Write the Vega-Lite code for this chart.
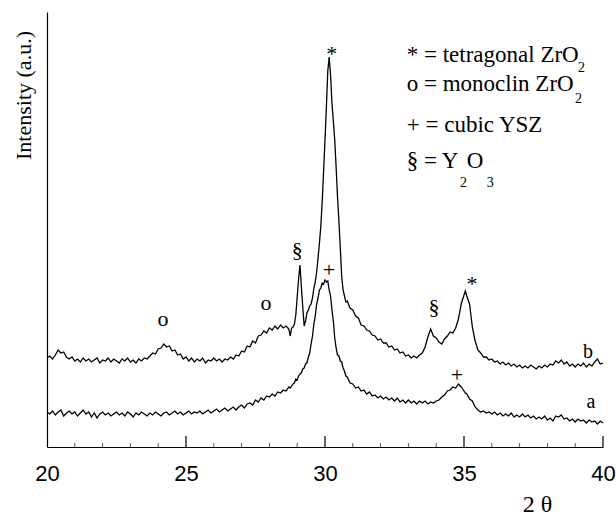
{
 "$schema": "https://vega.github.io/schema/vega-lite/v6.json",
 "width": 556,
 "height": 435,
 "autosize": {"type": "none"},
 "padding": {"left": 47, "top": 12, "right": 13, "bottom": 68},
 "config": {"view": {"stroke": null}},
 "datasets": {
  "xrd": [
   {"t":20.0,"a":35,"b":89},{"t":20.1,"a":33,"b":91},{"t":20.2,"a":36,"b":88},{"t":20.3,"a":32,"b":92},{"t":20.4,"a":35,"b":97},
   {"t":20.5,"a":37,"b":94},{"t":20.6,"a":31,"b":95},{"t":20.7,"a":34,"b":90},{"t":20.8,"a":36,"b":88},{"t":20.9,"a":33,"b":90},
   {"t":21.0,"a":35,"b":86},{"t":21.1,"a":31,"b":88},{"t":21.2,"a":34,"b":85},{"t":21.3,"a":37,"b":89},{"t":21.4,"a":33,"b":86},
   {"t":21.5,"a":35,"b":88},{"t":21.6,"a":30,"b":85},{"t":21.7,"a":34,"b":87},{"t":21.8,"a":29,"b":89},{"t":21.9,"a":33,"b":84},
   {"t":22.0,"a":35,"b":87},{"t":22.1,"a":32,"b":86},{"t":22.2,"a":34,"b":89},{"t":22.3,"a":31,"b":85},{"t":22.4,"a":33,"b":88},
   {"t":22.5,"a":35,"b":86},{"t":22.6,"a":32,"b":84},{"t":22.7,"a":34,"b":88},{"t":22.8,"a":31,"b":86},{"t":22.9,"a":35,"b":89},
   {"t":23.0,"a":33,"b":85},{"t":23.1,"a":30,"b":87},{"t":23.2,"a":34,"b":84},{"t":23.3,"a":32,"b":88},{"t":23.4,"a":35,"b":86},
   {"t":23.5,"a":33,"b":89},{"t":23.6,"a":31,"b":88},{"t":23.7,"a":34,"b":91},{"t":23.8,"a":32,"b":94},{"t":23.9,"a":35,"b":93},
   {"t":24.0,"a":33,"b":98},{"t":24.1,"a":31,"b":99},{"t":24.2,"a":34,"b":103},{"t":24.3,"a":35,"b":100},{"t":24.4,"a":32,"b":101},
   {"t":24.5,"a":34,"b":96},{"t":24.6,"a":36,"b":97},{"t":24.7,"a":33,"b":92},{"t":24.8,"a":35,"b":93},{"t":24.9,"a":32,"b":88},
   {"t":25.0,"a":34,"b":90},{"t":25.1,"a":36,"b":86},{"t":25.2,"a":33,"b":89},{"t":25.3,"a":35,"b":85},{"t":25.4,"a":34,"b":88},
   {"t":25.5,"a":36,"b":86},{"t":25.6,"a":33,"b":89},{"t":25.7,"a":35,"b":84},{"t":25.8,"a":37,"b":87},{"t":25.9,"a":34,"b":86},
   {"t":26.0,"a":36,"b":89},{"t":26.1,"a":38,"b":86},{"t":26.2,"a":35,"b":88},{"t":26.3,"a":37,"b":85},{"t":26.4,"a":39,"b":88},
   {"t":26.5,"a":36,"b":87},{"t":26.6,"a":38,"b":90},{"t":26.7,"a":40,"b":88},{"t":26.8,"a":37,"b":92},{"t":26.9,"a":40,"b":91},
   {"t":27.0,"a":42,"b":96},{"t":27.1,"a":39,"b":95},{"t":27.2,"a":43,"b":101},{"t":27.3,"a":44,"b":100},{"t":27.4,"a":42,"b":106},
   {"t":27.5,"a":47,"b":104},{"t":27.6,"a":45,"b":111},{"t":27.7,"a":49,"b":112},{"t":27.8,"a":47,"b":116},{"t":27.9,"a":51,"b":114},
   {"t":28.0,"a":50,"b":119},{"t":28.1,"a":53,"b":117},{"t":28.2,"a":51,"b":121},{"t":28.3,"a":55,"b":118},{"t":28.4,"a":54,"b":122},
   {"t":28.5,"a":57,"b":119},{"t":28.6,"a":56,"b":121},{"t":28.7,"a":60,"b":118},{"t":28.75,"a":59,"b":111},{"t":28.8,"a":61,"b":119},
   {"t":28.85,"a":63,"b":120},{"t":28.9,"a":64,"b":123},{"t":28.95,"a":68,"b":132},{"t":29.0,"a":67,"b":150},{"t":29.05,"a":71,"b":168},
   {"t":29.1,"a":73,"b":182},{"t":29.15,"a":74,"b":160},{"t":29.2,"a":78,"b":140},{"t":29.25,"a":79,"b":121},{"t":29.3,"a":83,"b":126},
   {"t":29.35,"a":84,"b":134},{"t":29.4,"a":90,"b":137},{"t":29.45,"a":94,"b":141},{"t":29.5,"a":103,"b":143},{"t":29.55,"a":111,"b":149},
   {"t":29.6,"a":123,"b":159},{"t":29.65,"a":131,"b":165},{"t":29.7,"a":143,"b":175},{"t":29.75,"a":149,"b":189},{"t":29.8,"a":157,"b":204},
   {"t":29.85,"a":159,"b":221},{"t":29.9,"a":164,"b":246},{"t":29.95,"a":163,"b":276},{"t":30.0,"a":167,"b":307},{"t":30.05,"a":165,"b":340},
   {"t":30.1,"a":166,"b":376},{"t":30.15,"a":157,"b":390},{"t":30.2,"a":151,"b":372},{"t":30.25,"a":137,"b":344},{"t":30.3,"a":126,"b":326},
   {"t":30.35,"a":109,"b":307},{"t":30.4,"a":99,"b":280},{"t":30.45,"a":92,"b":250},{"t":30.5,"a":91,"b":226},{"t":30.55,"a":86,"b":199},
   {"t":30.6,"a":85,"b":171},{"t":30.65,"a":79,"b":157},{"t":30.7,"a":76,"b":151},{"t":30.75,"a":71,"b":145},{"t":30.8,"a":70,"b":146},
   {"t":30.9,"a":64,"b":139},{"t":31.0,"a":63,"b":137},{"t":31.1,"a":59,"b":131},{"t":31.2,"a":60,"b":129},{"t":31.3,"a":56,"b":122},
   {"t":31.4,"a":57,"b":121},{"t":31.5,"a":53,"b":117},{"t":31.6,"a":55,"b":116},{"t":31.7,"a":51,"b":112},{"t":31.8,"a":52,"b":111},
   {"t":31.9,"a":49,"b":107},{"t":32.0,"a":51,"b":108},{"t":32.1,"a":48,"b":104},{"t":32.2,"a":50,"b":104},{"t":32.3,"a":47,"b":100},
   {"t":32.4,"a":49,"b":101},{"t":32.5,"a":46,"b":97},{"t":32.6,"a":49,"b":98},{"t":32.7,"a":45,"b":94},{"t":32.8,"a":47,"b":95},
   {"t":32.9,"a":44,"b":91},{"t":33.0,"a":47,"b":92},{"t":33.1,"a":44,"b":89},{"t":33.2,"a":46,"b":91},{"t":33.3,"a":43,"b":89},
   {"t":33.4,"a":46,"b":92},{"t":33.5,"a":44,"b":94},{"t":33.6,"a":46,"b":100},{"t":33.7,"a":43,"b":110},{"t":33.8,"a":45,"b":118},
   {"t":33.9,"a":44,"b":111},{"t":34.0,"a":46,"b":109},{"t":34.1,"a":47,"b":105},{"t":34.2,"a":50,"b":103},{"t":34.3,"a":52,"b":108},
   {"t":34.4,"a":56,"b":111},{"t":34.5,"a":57,"b":115},{"t":34.6,"a":60,"b":114},{"t":34.7,"a":59,"b":119},{"t":34.8,"a":63,"b":128},
   {"t":34.9,"a":60,"b":143},{"t":35.0,"a":56,"b":152},{"t":35.05,"a":54,"b":156},{"t":35.1,"a":53,"b":151},{"t":35.2,"a":48,"b":143},
   {"t":35.3,"a":46,"b":120},{"t":35.4,"a":40,"b":106},{"t":35.5,"a":37,"b":97},{"t":35.6,"a":35,"b":94},{"t":35.7,"a":36,"b":90},
   {"t":35.8,"a":34,"b":90},{"t":35.9,"a":35,"b":87},{"t":36.0,"a":33,"b":88},{"t":36.1,"a":35,"b":85},{"t":36.2,"a":32,"b":86},
   {"t":36.3,"a":34,"b":83},{"t":36.4,"a":31,"b":85},{"t":36.5,"a":33,"b":82},{"t":36.6,"a":31,"b":84},{"t":36.7,"a":34,"b":81},
   {"t":36.8,"a":30,"b":83},{"t":36.9,"a":32,"b":80},{"t":37.0,"a":30,"b":82},{"t":37.1,"a":33,"b":79},{"t":37.2,"a":30,"b":81},
   {"t":37.3,"a":32,"b":79},{"t":37.4,"a":29,"b":82},{"t":37.5,"a":31,"b":80},{"t":37.6,"a":28,"b":78},{"t":37.7,"a":30,"b":81},
   {"t":37.8,"a":28,"b":79},{"t":37.9,"a":31,"b":82},{"t":38.0,"a":27,"b":80},{"t":38.1,"a":29,"b":83},{"t":38.2,"a":26,"b":82},
   {"t":38.3,"a":31,"b":86},{"t":38.4,"a":30,"b":84},{"t":38.5,"a":32,"b":87},{"t":38.6,"a":28,"b":83},{"t":38.7,"a":29,"b":85},
   {"t":38.8,"a":26,"b":81},{"t":38.9,"a":28,"b":83},{"t":39.0,"a":25,"b":80},{"t":39.1,"a":28,"b":83},{"t":39.2,"a":26,"b":81},
   {"t":39.3,"a":27,"b":84},{"t":39.4,"a":24,"b":80},{"t":39.5,"a":27,"b":83},{"t":39.6,"a":25,"b":81},{"t":39.7,"a":26,"b":85},
   {"t":39.8,"a":23,"b":88},{"t":39.9,"a":26,"b":83},{"t":40.0,"a":24,"b":84}
  ],
  "majorticks": [{"t":25},{"t":30},{"t":35},{"t":40}],
  "minorticks": [
   {"t":21},{"t":22},{"t":23},{"t":24},{"t":26},{"t":27},{"t":28},{"t":29},
   {"t":31},{"t":32},{"t":33},{"t":34},{"t":36},{"t":37},{"t":38},{"t":39}
  ],
  "peaks": [
   {"t":30.24,"v":386,"label":"*"},{"t":29.0,"v":190,"label":"§"},{"t":24.17,"v":121,"label":"o"},
   {"t":27.88,"v":137,"label":"o"},{"t":30.14,"v":170,"label":"+"},{"t":33.92,"v":133,"label":"§"},
   {"t":35.29,"v":156,"label":"*"},{"t":34.75,"v":65,"label":"+"}
  ],
  "curvenames": [
   {"t":39.46,"v":89,"label":"b"},{"t":39.57,"v":39,"label":"a"}
  ],
  "legend": [
   {"t":32.94,"v":385,"label":"* = tetragonal ZrO"},{"t":32.94,"v":356,"label":"o = monoclin ZrO"},
   {"t":32.94,"v":315,"label":"+ = cubic YSZ"},{"t":32.94,"v":279,"label":"§ = Y"},{"t":35.10,"v":279,"label":"O"}
  ],
  "subs": [
   {"t":39.10,"v":375,"label":"2"},{"t":38.99,"v":344,"label":"2"},{"t":34.86,"v":260,"label":"2"},{"t":35.82,"v":260,"label":"3"}
  ]
 },
 "encoding": {
  "x": {"field": "t", "type": "quantitative", "scale": {"domain": [20, 40], "nice": false},
   "axis": {"values": [20,25,30,35,40],
    "ticks": false,
    "labelFont": "Liberation Sans", "labelFontSize": 22, "labelColor": "black", "labelPadding": 16,
    "labelFlush": false, "labelOverlap": false, "grid": false,
    "domainColor": "black", "domainWidth": 1.2,
    "title": "2 θ", "titleFont": "Liberation Serif", "titleFontSize": 24, "titleFontWeight": "normal", "titleColor": "black",
    "titleX": 490, "titleY": 64, "titleAlign": "center", "titleBaseline": "alphabetic", "titleAnchor": null}}
 },
 "layer": [
  {"data": {"name": "xrd"}, "transform": [{"fold": ["a", "b"], "as": ["curve", "v"]}],
   "mark": {"type": "line", "color": "black", "strokeWidth": 1.3},
   "encoding": {
    "y": {"field": "v", "type": "quantitative", "scale": {"domain": [0, 435], "nice": false},
     "axis": {"ticks": false, "labels": false, "grid": false, "domainColor": "black", "domainWidth": 1.2,
      "title": "Intensity (a.u.)", "titleFont": "Liberation Serif", "titleFontSize": 22, "titleFontWeight": "normal", "titleColor": "black",
      "titleX": -24, "titleY": 83, "titleAngle": -90, "titleAlign": "center", "titleBaseline": "middle", "titleAnchor": null}},
    "detail": {"field": "curve"}}},
  {"data": {"name": "majorticks"}, "mark": {"type": "rule", "color": "black", "strokeWidth": 1.2},
   "encoding": {"y": {"datum": 0}, "y2": {"datum": 11}}},
  {"data": {"name": "minorticks"}, "mark": {"type": "rule", "color": "#555555", "strokeWidth": 1},
   "encoding": {"y": {"datum": 0}, "y2": {"datum": 4}}},
  {"data": {"name": "peaks"}, "mark": {"type": "text", "font": "Liberation Serif", "color": "black", "fontSize": 22, "align": "center", "baseline": "alphabetic"},
   "encoding": {"y": {"field": "v", "type": "quantitative", "title": "Intensity (a.u.)"}, "text": {"field": "label"}}},
  {"data": {"name": "curvenames"}, "mark": {"type": "text", "font": "Liberation Serif", "color": "black", "fontSize": 20, "align": "center", "baseline": "alphabetic"},
   "encoding": {"y": {"field": "v", "type": "quantitative", "title": "Intensity (a.u.)"}, "text": {"field": "label"}}},
  {"data": {"name": "legend"}, "mark": {"type": "text", "font": "Liberation Serif", "color": "black", "fontSize": 23, "align": "left", "baseline": "alphabetic"},
   "encoding": {"y": {"field": "v", "type": "quantitative", "title": "Intensity (a.u.)"}, "text": {"field": "label"}}},
  {"data": {"name": "subs"}, "mark": {"type": "text", "font": "Liberation Serif", "color": "black", "fontSize": 14, "align": "left", "baseline": "alphabetic"},
   "encoding": {"y": {"field": "v", "type": "quantitative", "title": "Intensity (a.u.)"}, "text": {"field": "label"}}}
 ]
}
